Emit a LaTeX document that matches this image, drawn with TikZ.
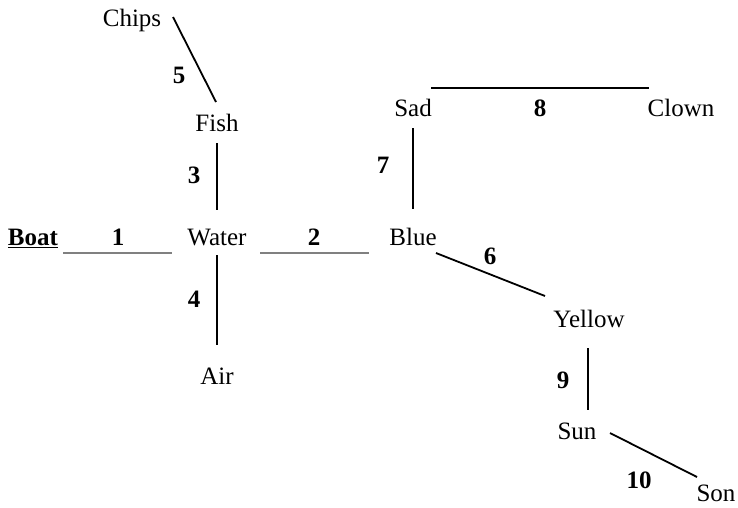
\documentclass[tikz,border=0pt]{standalone}
\usepackage{fontspec}
\setmainfont{Liberation Serif}
\begin{document}
\begin{tikzpicture}[x=1pt,y=-1pt,
  word/.style={font=\fontsize{25}{30}\selectfont, inner sep=0pt, anchor=center},
  num/.style={font=\fontsize{25}{30}\selectfont\bfseries, inner sep=0pt, anchor=center},
  blk/.style={draw=black, line width=1.8pt},
  gry/.style={draw=black!50, line width=1.8pt}]
\useasboundingbox (0,0) rectangle (738,507);
% words
\node[word] (chips) at (132,20) {Chips};
\node[word] (fish) at (217,123) {Fish};
\node[word] (water) at (217,237) {Water};
\node[word] (air) at (217,376) {Air};
\node[word] (boat) at (33,238) {\underline{\textbf{Boat}}};
\node[word] (blue) at (413,237) {Blue};
\node[word] (sad) at (413,108) {Sad};
\node[word] (clown) at (681,108) {Clown};
\node[word] (yellow) at (589,319) {Yellow};
\node[word] (sun) at (577,431) {Sun};
\node[word] (son) at (716,493) {Son};
% numbers
\node[num] (n1) at (118,237) {1};
\node[num] (n2) at (314,237) {2};
\node[num] (n3) at (194,175) {3};
\node[num] (n4) at (194,299) {4};
\node[num] (n5) at (179,75) {5};
\node[num] (n6) at (490,256) {6};
\node[num] (n7) at (383,165) {7};
\node[num] (n8) at (540,108) {8};
\node[num] (n9) at (563,380) {9};
\node[num] (n10) at (639,480) {10};
% connectors
\draw[blk] ([shift={(41,-3)}]chips.center) -- ([shift={(-1,-21)}]fish.center);
\draw[blk] ([shift={(0,20)}]fish.center) -- ([shift={(0,-27)}]water.center);
\draw[blk] ([shift={(0,18)}]water.center) -- ([shift={(0,-31)}]air.center);
\draw[gry] ([shift={(30,15)}]boat.center) -- ([shift={(-45,16)}]water.center);
\draw[gry] ([shift={(43,16)}]water.center) -- ([shift={(-44,16)}]blue.center);
\draw[blk] ([shift={(0,20)}]sad.center) -- ([shift={(0,-28)}]blue.center);
\draw[blk] ([shift={(18,-20)}]sad.center) -- ([shift={(-32,-20)}]clown.center);
\draw[blk] ([shift={(23,16)}]blue.center) -- ([shift={(-44,-23)}]yellow.center);
\draw[blk] ([shift={(-1,29)}]yellow.center) -- ([shift={(11,-21)}]sun.center);
\draw[blk] ([shift={(33,2)}]sun.center) -- ([shift={(-19,-16)}]son.center);
\end{tikzpicture}
\end{document}
